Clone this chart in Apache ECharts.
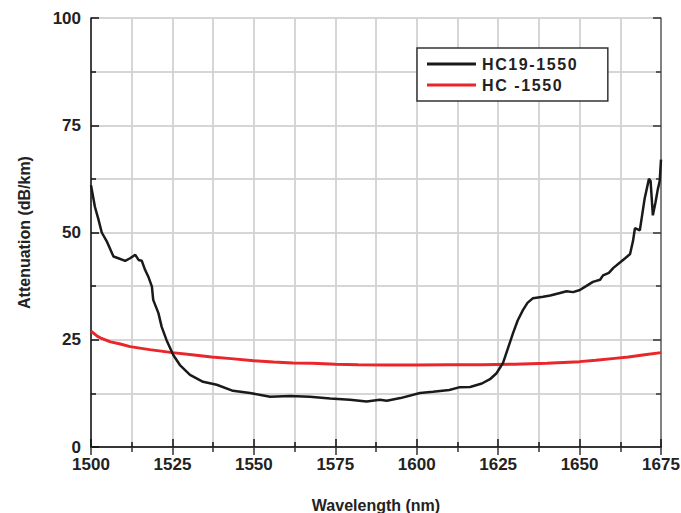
<!DOCTYPE html>
<html>
<head>
<meta charset="utf-8">
<script src="https://cdn.jsdelivr.net/npm/echarts@6/dist/echarts.min.js"></script>
<style>
html,body{margin:0;padding:0;background:#fff;}
#chart{width:681px;height:513px;}
</style>
</head>
<body>
<div id="chart"></div>
<script>
const seriesNames = ['HC19-1550', 'HC -1550'];
const xTicks = [1500, 1525, 1550, 1575, 1600, 1625, 1650, 1675];
const yTicks = [0, 25, 50, 75, 100];

const hc19Wavelength = [1500, 1501.2, 1502.3, 1503.3, 1504.8, 1506.9, 1508.4, 1510.5, 1512, 1513.6, 1514.6, 1515.6, 1516.6, 1517.6, 1518.7,
  1519.1, 1520.7, 1521.7, 1523.2, 1525.3, 1527.3, 1530.4, 1534.4, 1538.6, 1543.6, 1548.8, 1555, 1561.1, 1567.2, 1573.4, 1579.5,
  1584.6, 1588.7, 1590.8, 1595, 1601, 1605, 1610, 1613, 1616.4, 1620, 1622.5, 1624.5, 1626.5, 1628, 1629.6, 1631, 1632.6, 1634,
  1635.7, 1638.8, 1641, 1644, 1646, 1648, 1650.1, 1652, 1654.1, 1656.3, 1657.2, 1659, 1660.3, 1662.4, 1664, 1665.5, 1666.4, 1667,
  1668.5, 1670, 1671.3, 1671.8, 1672.5, 1673.3, 1674, 1674.6, 1675];
const hc19Attenuation = [61, 56, 53, 50, 48, 44.4, 44, 43.4, 44, 44.8, 43.6, 43.4, 41.3, 39.7, 37.4,
  34.3, 31.2, 28, 24.9, 21.4, 19.1, 16.8, 15.2, 14.5, 13.1, 12.6, 11.7, 11.9, 11.7, 11.3, 11,
  10.6, 11, 10.8, 11.4, 12.6, 12.9, 13.3, 13.9, 14, 14.8, 15.8, 17.2, 19.6, 23, 26.6, 29.5, 31.9, 33.6,
  34.7, 35, 35.3, 35.9, 36.3, 36.1, 36.6, 37.5, 38.5, 39, 40, 40.6, 41.7, 43, 44, 45, 48, 51,
  50.5, 58, 62.5, 62, 54, 57, 60, 62, 67];

const hcWavelength = [1500, 1502, 1503, 1506, 1509, 1512, 1518, 1525, 1531, 1537, 1543, 1550, 1556, 1562, 1568, 1575,
  1582, 1590, 1600, 1610, 1620, 1630, 1640, 1645, 1650, 1655, 1660, 1665, 1670, 1675];
const hcAttenuation = [27, 25.8, 25.4, 24.5, 24, 23.4, 22.7, 22, 21.5, 21, 20.6, 20.1, 19.8, 19.6, 19.5, 19.3,
  19.2, 19.1, 19.1, 19.2, 19.2, 19.3, 19.5, 19.7, 19.9, 20.2, 20.6, 21, 21.5, 22];

const FONT = '"Liberation Sans", Arial, sans-serif';

const pairs = (xs, ys) => xs.map((x, i) => [x, ys[i]]);

const chart = echarts.init(document.getElementById('chart'), null, {renderer: 'svg'});

const gridColor = '#d3d3d3';
const split = {show: true, lineStyle: {color: gridColor, width: 1.5}};
const baseX = {
  type: 'value', min: xTicks[0], max: xTicks[xTicks.length - 1], interval: 25,
  splitLine: split, minorSplitLine: split
};
const baseY = {
  type: 'value', min: yTicks[0], max: yTicks[yTicks.length - 1], interval: 25,
  splitLine: split, minorSplitLine: split
};
const labelStyle = {fontFamily: FONT, fontWeight: 'bold', fontSize: 17, color: '#222'};

chart.setOption({
  animation: false,
  backgroundColor: '#fff',
  grid: {left: 91, right: 20, top: 18, bottom: 66, containLabel: false, outerBoundsMode: 'none'},
  legend: {
    data: seriesNames.map(n => ({name: n, icon: 'rect'})),
    orient: 'vertical',
    left: 417, top: 48,
    padding: [8, 44, 8, 10],
    itemWidth: 49, itemHeight: 3, itemGap: 5,
    borderColor: '#333', borderWidth: 1.5, borderRadius: 0,
    backgroundColor: '#fff',
    textStyle: {fontFamily: FONT, fontWeight: 'bold', fontSize: 16, lineHeight: 14, color: '#222', padding: [0, 0, 0, 1]}
  },
  xAxis: [
    Object.assign({}, baseX, {
      position: 'bottom',
      name: 'Wavelength (nm)', nameLocation: 'middle', nameGap: 50,
      nameTextStyle: {fontFamily: FONT, fontWeight: 'bold', fontSize: 16, color: '#222'},
      axisLine: {lineStyle: {color: '#111', width: 1.5}},
      axisTick: {inside: true, length: 8, lineStyle: {color: '#111', width: 1.5}},
      minorTick: {show: true, splitNumber: 2, length: 5, lineStyle: {color: '#111', width: 1.5}},
      axisLabel: Object.assign({margin: 9, formatter: v => String(v)}, labelStyle)
    }),
    Object.assign({}, baseX, {
      position: 'top',
      axisLine: {lineStyle: {color: '#333', width: 1.5}},
      axisTick: {inside: true, length: 8, lineStyle: {color: '#333', width: 1.5}},
      minorTick: {show: true, splitNumber: 2, length: 5, lineStyle: {color: '#333', width: 1.5}},
      axisLabel: {show: false}
    })
  ],
  yAxis: [
    Object.assign({}, baseY, {
      position: 'left',
      name: 'Attenuation (dB/km)', nameLocation: 'middle', nameGap: 59, nameRotate: 90,
      nameTextStyle: {fontFamily: FONT, fontWeight: 'bold', fontSize: 16, color: '#222'},
      axisLine: {lineStyle: {color: '#111', width: 1.5}},
      axisTick: {inside: true, length: 8, lineStyle: {color: '#111', width: 1.5}},
      minorTick: {show: true, splitNumber: 2, length: 5, lineStyle: {color: '#111', width: 1.5}},
      axisLabel: Object.assign({margin: 10, formatter: v => String(v)}, labelStyle)
    }),
    Object.assign({}, baseY, {
      position: 'right',
      axisLine: {lineStyle: {color: '#666', width: 1.5}},
      axisTick: {inside: true, length: 8, lineStyle: {color: '#333', width: 1.5}},
      minorTick: {show: true, splitNumber: 2, length: 5, lineStyle: {color: '#333', width: 1.5}},
      axisLabel: {show: false}
    })
  ],
  series: [
    {
      name: seriesNames[0], type: 'line', symbol: 'none', smooth: false,
      data: pairs(hc19Wavelength, hc19Attenuation),
      lineStyle: {color: '#1a1a1a', width: 2.5}, itemStyle: {color: '#1a1a1a'}, z: 3
    },
    {
      name: seriesNames[1], type: 'line', symbol: 'none', smooth: false,
      data: pairs(hcWavelength, hcAttenuation),
      lineStyle: {color: '#e8262b', width: 3}, itemStyle: {color: '#e8262b'}, z: 2
    }
  ]
});

function spaceLegend() {
  document.querySelectorAll('#chart text').forEach(t => {
    if (seriesNames.indexOf(t.textContent) >= 0) {
      t.style.letterSpacing = '1.6px';
    }
  });
}
chart.on('finished', spaceLegend);
spaceLegend();
setTimeout(spaceLegend, 50);
</script>
</body>
</html>
